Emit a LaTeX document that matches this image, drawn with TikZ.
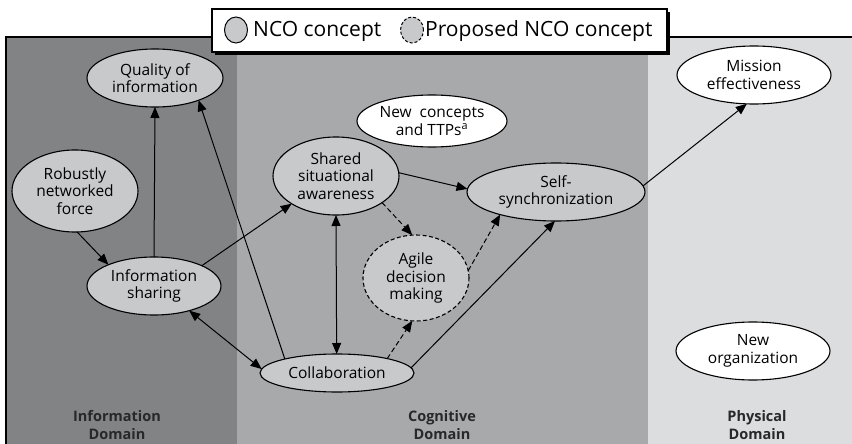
\documentclass[tikz,border=0pt]{standalone}
\usepackage{fontspec}
\setmainfont{Open Sans}
\usetikzlibrary{shapes.geometric,arrows.meta}
\definecolor{infobg}{RGB}{130,131,133}
\definecolor{cogbg}{RGB}{168,169,171}
\definecolor{physbg}{RGB}{220,221,223}
\definecolor{nodefill}{RGB}{200,201,203}
\definecolor{labeltext}{RGB}{40,40,40}
\newcommand\ndfont{\fontsize{15.5}{17.5}\selectfont}
\newcommand\domfont{\fontsize{14.5}{17.5}\selectfont\bfseries}
\newcommand\lgfont{\fontsize{21}{24}\selectfont}
\tikzset{
  nco/.style={ellipse, draw, line width=1.1pt, fill=nodefill, inner sep=0pt, outer sep=0pt, align=center, font=\ndfont},
  newc/.style={nco, fill=white},
  prop/.style={nco, dash pattern=on 4pt off 2.5pt},
  arr/.style={-{Triangle[length=11pt,width=9pt]}, line width=1pt},
  darr/.style={{Triangle[length=11pt,width=9pt]}-{Triangle[length=11pt,width=9pt]}, line width=1pt},
  dasharr/.style={arr, dash pattern=on 5pt off 3pt},
  domlabel/.style={align=center, font=\domfont, inner sep=0pt, text=labeltext},
}
\begin{document}
\begin{tikzpicture}[x=1pt,y=-1pt]
\useasboundingbox (0,0) rectangle (852,444);
\fill[white] (0,0) rectangle (852,444);
% domains
\fill[infobg] (6,37) rectangle (237,444);
\fill[cogbg] (237,37) rectangle (648,444);
\fill[physbg] (648,37) rectangle (852,444);
\draw[line width=2.5pt] (6,444) -- (6,37) -- (852,37);
% legend
\fill[black] (215,12) rectangle (670,55);
\draw[fill=white, line width=1.2pt] (212,9) rectangle (667,52);
\node[ellipse, draw, line width=1pt, fill=nodefill, minimum width=23pt, minimum height=26pt, inner sep=0pt] (lg1) at (236,30) {};
\node[anchor=west, font=\lgfont, inner sep=0pt] (lg1t) at (253,31) {NCO concept};
\node[ellipse, draw, line width=1pt, fill=nodefill, dash pattern=on 3pt off 2pt, minimum width=23pt, minimum height=26pt, inner sep=0pt] (lg2) at (412,30) {};
\node[anchor=west, font=\lgfont, inner sep=0pt] (lg2t) at (425,31) {Proposed NCO concept};
% nodes
\node[nco, minimum width=136pt, minimum height=58pt] (qual) at (155,78) {Quality of\\information};
\node[newc, minimum width=154pt, minimum height=58pt] (miss) at (754,75) {Mission\\effectiveness};
\node[newc, minimum width=150pt, minimum height=52pt] (newc) at (432,121) {New\ \ concepts\\and TTPs\textsuperscript{a}};
\node[nco, minimum width=126pt, minimum height=82pt] (rob) at (75,191) {Robustly\\networked\\force};
\node[nco, minimum width=134pt, minimum height=58pt] (info) at (154,286) {Information\\sharing};
\node[nco, minimum width=126pt, minimum height=78pt] (ssa) at (336,176) {Shared\\situational\\awareness};
\node[prop, minimum width=106pt, minimum height=86pt] (agile) at (416,278) {Agile\\decision\\making};
\node[nco, minimum width=154pt, minimum height=38pt] (coll) at (337,373) {Collaboration};
\node[nco, minimum width=178pt, minimum height=58pt] (self) at (556,192) {Self-\\synchronization};
\node[newc, minimum width=154pt, minimum height=58pt] (org) at (753,351) {New\\organization};
% domain labels
\node[domlabel] (dinfo) at (117,425) {Information\\Domain};
\node[domlabel] (dcog) at (442,425) {Cognitive\\Domain};
\node[domlabel] (dphys) at (757,425) {Physical\\Domain};
% connectors
\draw[arr] (rob.-87) -- (info.155);
\draw[arr] (info.90) -- (qual.-90);
\draw[arr] (coll.165) -- (qual.-27);
\draw[arr] (info.23) -- (ssa.212);
\draw[darr] (info.-35) -- (coll.177);
\draw[darr] (ssa.-90) -- (coll.91);
\draw[arr] (ssa.3) -- (self.178);
\draw[dasharr] (ssa.-30) -- (agile.95);
\draw[dasharr] (coll.16) -- (agile.-95);
\draw[dasharr] (agile.8) -- (self.202);
\draw[arr] (coll.4) -- (self.-92);
\draw[arr] (self.4.5) -- (miss.-104);
\end{tikzpicture}
\end{document}
